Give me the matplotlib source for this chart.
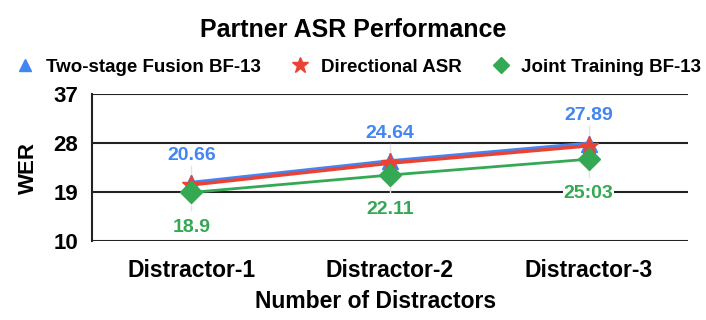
import matplotlib
matplotlib.use('Agg')
import matplotlib.pyplot as plt
from matplotlib.lines import Line2D

plt.rcParams['font.family'] = ['Liberation Sans', 'DejaVu Sans']

categories = ['Distractor-1', 'Distractor-2', 'Distractor-3']
two_stage = [20.66, 24.64, 27.89]
directional = [20.3, 24.3, 27.5]
joint = [18.9, 22.11, 25.03]
two_stage_labels = ['20.66', '24.64', '27.89']
joint_labels = ['18.9', '22.11', '25:03']
yticks = [10, 19, 28, 37]

blue = '#4285F4'
red = '#EA4335'
green = '#34A853'

fig = plt.figure(figsize=(7.06, 3.2), dpi=100)
ax = fig.add_axes([0.1303, 0.2478, 0.8442, 0.4575])

x = list(range(len(categories)))

# faint leader lines through each category
for i in x:
    ax.plot([i, i], [joint[i] - 3.2, two_stage[i] + 3.2], color='#e3e3e3', lw=1, zorder=1)

ax.plot(x, two_stage, color=blue, lw=3, marker='^', ms=11, zorder=3)
ax.plot(x, directional, color=red, lw=2.5, marker='*', ms=14, zorder=4)
ax.plot(x, joint, color=green, lw=2, marker='D', ms=11, zorder=5)

for i in x:
    ax.annotate(two_stage_labels[i], (i, two_stage[i]), xytext=(0, 20), textcoords='offset points',
                ha='center', va='center', color=blue, fontsize=14, fontweight='bold', zorder=6)
    ax.annotate(joint_labels[i], (i, joint[i]), xytext=(0, -25), textcoords='offset points',
                ha='center', va='center', color=green, fontsize=14, fontweight='bold', zorder=6,
                bbox=dict(facecolor='white', edgecolor='none', pad=0.5))

ax.set_xlim(-0.5, 2.5)
ax.set_ylim(10, 37)
ax.set_yticks(yticks)
ax.set_xticks(x)
ax.set_xticklabels(categories, fontsize=16.5, fontweight='bold')
for lbl in ax.get_yticklabels():
    lbl.set_fontsize(16)
    lbl.set_fontweight('bold')
ax.tick_params(axis='y', length=0, pad=10)
ax.tick_params(axis='x', length=0, pad=13)
ax.grid(axis='y', color='#222222', lw=1.5, zorder=0)
ax.set_axisbelow(True)
for s in ['top', 'right', 'bottom']:
    ax.spines[s].set_visible(False)
ax.spines['left'].set_color('#222222')
ax.spines['left'].set_linewidth(1.5)

ax.set_xlabel('Number of Distractors', fontsize=16.5, fontweight='bold', labelpad=6)
ax.xaxis.label.set_x(0.475)
ax.set_ylabel('WER', fontsize=16, fontweight='bold', labelpad=10)

fig.text(0.5, 0.905, 'Partner ASR Performance', ha='center', va='center', fontsize=18, fontweight='bold')

handles = [
    Line2D([], [], ls='none', marker='^', ms=9, color=blue),
    Line2D([], [], ls='none', marker='*', ms=12, color=red),
    Line2D([], [], ls='none', marker='D', ms=8, color=green),
]
names = ['Two-stage Fusion BF-13', 'Directional ASR', 'Joint Training BF-13']
fig.legend(handles, names, loc='center', bbox_to_anchor=(0.508, 0.79), ncol=3, frameon=False,
           handlelength=1.0, handletextpad=0.6, columnspacing=1.6,
           prop={'weight': 'bold', 'size': 13.5})

fig.savefig('out.png', dpi=100)
